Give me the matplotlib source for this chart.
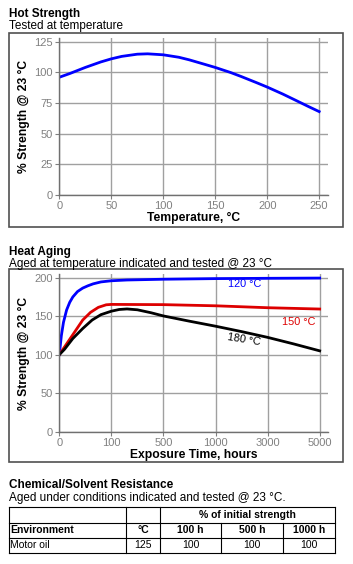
import matplotlib.pyplot as plt
from matplotlib.patches import Rectangle

plt.rcParams['font.family'] = ['Liberation Sans', 'DejaVu Sans']

# ---- Hot strength data ----
hot_temp = [0, 10, 25, 40, 50, 60, 75, 85, 100, 115, 125, 140, 150, 165, 175, 190, 200, 215, 225, 240, 250]
hot_strength = [96, 99, 104, 108.5, 111, 113, 114.8, 115.1, 114.3, 112.3, 110.2, 106.5, 104, 99.8, 96.6, 91.5, 88, 82.3, 78.2, 72, 68]
hot_xticks = [0, 50, 100, 150, 200, 250]
hot_yticks = [0, 25, 50, 75, 100, 125]

# ---- Heat aging data (x is category position of the time ticks) ----
age_ticklabels = ['0', '100', '500', '1000', '3000', '5000']
age_yticks = [0, 50, 100, 150, 200]
pos_120 = [0, 0.04, 0.08, 0.14, 0.2, 0.26, 0.35, 0.45, 0.55, 0.65, 0.8, 1.0, 1.3, 2.0, 3.0, 4.0, 5.0]
val_120 = [100, 125, 142, 158, 168, 175, 182, 186.5, 189.5, 192, 194.5, 196, 197, 198, 198.8, 199.2, 199.5]
pos_150 = [0, 0.08, 0.2, 0.3, 0.45, 0.6, 0.75, 0.9, 1.0, 2.0, 3.0, 4.0, 5.0]
val_150 = [100, 108, 120, 130, 145, 155, 161.5, 164.8, 165.3, 165, 163.5, 161, 159.3]
pos_180 = [0, 0.1, 0.26, 0.45, 0.63, 0.8, 1.0, 1.15, 1.3, 1.5, 1.76, 2.0, 2.5, 3.0, 3.5, 4.0, 4.5, 5.0]
val_180 = [100, 107, 121, 134, 145, 152, 156.5, 158.7, 159.4, 158.3, 154.5, 150.3, 143.5, 137, 130, 122.5, 114, 105]
age_series = [(pos_120, val_120, '#0000ff', '120 °C'),
              (pos_150, val_150, '#dd0000', '150 °C'),
              (pos_180, val_180, '#000000', '180 °C')]

# ---- Chemical resistance table ----
chem_header = ['Environment', '°C', '100 h', '500 h', '1000 h']
chem_rows = [['Motor oil', '125', '100', '100', '100']]

W, H = 353, 564
fig = plt.figure(figsize=(W / 100, H / 100), dpi=100)


def fx(px):
    return px / W


def fy(py):
    return 1 - py / H


grid_c = '#a0a0a0'
tick_c = '#808080'


def style_axes(ax):
    for s in ['top', 'right']:
        ax.spines[s].set_visible(False)
    for s in ['left', 'bottom']:
        ax.spines[s].set_color('#707070')
        ax.spines[s].set_linewidth(1)
    ax.grid(True, color=grid_c, linewidth=1)
    ax.set_axisbelow(True)
    ax.tick_params(colors=tick_c, labelsize=8, length=3, width=0.8, pad=1.5)
    for lab in ax.get_xticklabels() + ax.get_yticklabels():
        lab.set_color(tick_c)


def box(y0, y1):
    fig.add_artist(Rectangle((fx(9), fy(y1)), fx(343) - fx(9), fy(y0) - fy(y1),
                             transform=fig.transFigure, fill=False,
                             edgecolor='#505050', linewidth=1.2))


# ---------------- Hot Strength ----------------
fig.text(fx(9), fy(14), 'Hot Strength', fontsize=8.5, fontweight='bold', va='center')
fig.text(fx(9), fy(26.5), 'Tested at temperature', fontsize=8.5, va='center')
box(33, 227)
ax1 = fig.add_axes([fx(59.3), fy(195), fx(328) - fx(59.3), fy(38) - fy(195)])
ax1.plot(hot_temp, hot_strength, color='#0000ff', linewidth=2)
ax1.set_xlim(0, 258.5)
ax1.set_ylim(0, 128)
ax1.set_xticks(hot_xticks)
ax1.set_yticks(hot_yticks)
style_axes(ax1)
ax1.set_xlabel('Temperature, °C', fontsize=8.7, fontweight='bold', labelpad=0.5)
ax1.set_ylabel('% Strength @ 23 °C', fontsize=8.7, fontweight='bold', labelpad=3)

# ---------------- Heat Aging ----------------
fig.text(fx(9), fy(252), 'Heat Aging', fontsize=8.5, fontweight='bold', va='center')
fig.text(fx(9), fy(264), 'Aged at temperature indicated and tested @ 23 °C', fontsize=8.5, va='center')
box(269, 462)
ax2 = fig.add_axes([fx(59.3), fy(431.7), fx(328) - fx(59.3), fy(274.3) - fy(431.7)])
for xs, ys, c, lab in age_series:
    ax2.plot(xs, ys, color=c, linewidth=2)
ax2.set_xlim(0, 5.16)
ax2.set_ylim(0, 204.4)
ax2.set_xticks(range(len(age_ticklabels)))
ax2.set_xticklabels(age_ticklabels)
ax2.set_yticks(age_yticks)
style_axes(ax2)
ax2.set_xlabel('Exposure Time, hours', fontsize=8.7, fontweight='bold', labelpad=0.5)
ax2.set_ylabel('% Strength @ 23 °C', fontsize=8.7, fontweight='bold', labelpad=3)
ax2.text(3.55, 192, age_series[0][3], color=age_series[0][2], fontsize=7.8, ha='center', va='center')
ax2.text(4.6, 143, age_series[1][3], color=age_series[1][2], fontsize=7.8, ha='center', va='center')
ax2.text(3.55, 119, age_series[2][3], color=age_series[2][2], fontsize=7.8, ha='center', va='center',
         rotation=-9)

# ---------------- Chemical/Solvent Resistance ----------------
fig.text(fx(9), fy(485), 'Chemical/Solvent Resistance', fontsize=8.5, fontweight='bold', va='center')
fig.text(fx(9), fy(497.5), 'Aged under conditions indicated and tested @ 23 °C.', fontsize=8.5, va='center')

col_x = [9, 126, 160, 221, 283, 335]
row_y = [507, 522.5, 538, 553]
lc = '#000000'
lw = 0.8
for y in row_y:
    fig.add_artist(plt.Line2D([fx(col_x[0]), fx(col_x[-1])], [fy(y), fy(y)], color=lc, linewidth=lw))
for i, x in enumerate(col_x):
    if i in (3, 4):
        y_top = row_y[1]
    else:
        y_top = row_y[0]
    fig.add_artist(plt.Line2D([fx(x), fx(x)], [fy(y_top), fy(row_y[-1])], color=lc, linewidth=lw))

tfs = 7.5
fig.text(fx((col_x[2] + col_x[5]) / 2), fy((row_y[0] + row_y[1]) / 2), '% of initial strength',
         fontsize=tfs, fontweight='bold', ha='center', va='center')
for i, h in enumerate(chem_header):
    if i == 0:
        fig.text(fx(col_x[0] + 1.5), fy((row_y[1] + row_y[2]) / 2), h, fontsize=tfs,
                 fontweight='bold', ha='left', va='center')
    else:
        fig.text(fx((col_x[i] + col_x[i + 1]) / 2), fy((row_y[1] + row_y[2]) / 2), h, fontsize=tfs,
                 fontweight='bold', ha='center', va='center')
for r, row in enumerate(chem_rows):
    yc = (row_y[2 + r] + row_y[3 + r]) / 2
    for i, v in enumerate(row):
        if i == 0:
            fig.text(fx(col_x[0] + 1.5), fy(yc), v, fontsize=tfs, ha='left', va='center')
        else:
            fig.text(fx((col_x[i] + col_x[i + 1]) / 2), fy(yc), v, fontsize=tfs, ha='center', va='center')

fig.savefig('out.png', dpi=100)
